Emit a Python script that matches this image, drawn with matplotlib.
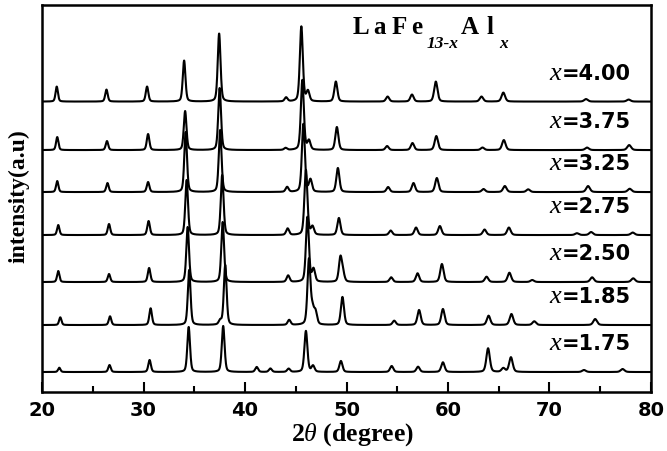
import numpy as np
import matplotlib
matplotlib.use("Agg")
import matplotlib.pyplot as plt
from matplotlib.ticker import MultipleLocator

plt.rcParams['mathtext.fontset'] = 'custom'
plt.rcParams['mathtext.bf'] = 'Liberation Serif:bold'
plt.rcParams['mathtext.it'] = 'Liberation Serif:italic'
plt.rcParams['mathtext.rm'] = 'Liberation Serif:bold'

# Al content of each sample, top to bottom
labels = ['4.00', '3.75', '3.25', '2.75', '2.50', '1.85', '1.75']
offsets = [290.5, 242, 200, 157, 110, 67, 20]

# peak positions (2theta) and heights of each pattern
pos_400 = [21.45, 26.35, 30.35, 34.0, 37.45, 44.05, 45.55, 46.2, 48.95, 54.05, 56.45, 58.8, 63.3, 65.45, 73.6, 77.8]
hgt_400 = [15, 12, 15, 41, 68, 4, 75, 10, 20, 5, 7, 20, 5, 9, 2.5, 2]

pos_375 = [21.5, 26.4, 30.45, 34.1, 37.5, 44.0, 45.65, 46.3, 49.05, 54.0, 56.5, 58.85, 63.4, 65.5, 73.7, 77.85]
hgt_375 = [13, 9, 16, 39, 62, 2, 70, 9, 23, 4, 7, 14, 2.5, 10, 2.5, 5]

pos_325 = [21.5, 26.45, 30.45, 34.15, 37.55, 44.15, 45.75, 46.45, 49.15, 54.1, 56.6, 58.9, 63.5, 65.6, 67.9, 73.8, 77.9]
hgt_325 = [11, 9, 10, 60, 62, 5, 68, 12, 24, 5, 9, 14, 3, 6, 2.7, 6, 3.3]

pos_275 = [21.6, 26.6, 30.5, 34.25, 37.75, 44.2, 46.0, 46.65, 49.25, 54.35, 56.85, 59.2, 63.6, 66.0, 72.7, 74.1, 78.2]
hgt_275 = [10, 11, 14, 55, 60, 6.5, 65, 8, 17, 4.5, 7.5, 9, 5.5, 7.5, 1.8, 3, 2.5]

pos_250 = [21.6, 26.6, 30.55, 34.35, 37.8, 44.25, 46.15, 46.75, 49.4, 49.65, 54.4, 57.0, 59.4, 63.8, 66.05, 68.3, 74.2, 78.25]
hgt_250 = [11, 8, 14, 55, 60, 6.5, 65, 12.5, 24, 8, 4.7, 8.7, 18, 5.3, 9.3, 2, 4.7, 3.7]

pos_185 = [21.8, 26.7, 30.7, 34.5, 37.55, 38.05, 44.35, 46.3, 46.65, 46.95, 49.6, 54.7, 57.15, 59.5, 64.0, 66.25, 68.5, 74.5]
hgt_185 = [7.7, 8.7, 16.7, 55, 4, 60, 5, 65, 14, 12, 28, 4.3, 15, 16, 9.3, 11, 3.7, 6]

pos_175 = [21.7, 26.65, 30.6, 34.45, 37.85, 41.15, 42.5, 44.3, 46.0, 46.7, 49.45, 54.45, 57.05, 59.5, 63.95, 65.45, 66.2, 73.4, 77.2]
hgt_175 = [4.3, 7, 12, 45, 46, 5, 3.5, 3.3, 41, 6, 11, 6, 5.3, 9.7, 23.7, 3.7, 14.7, 2, 3]

patterns = [(pos_400, hgt_400), (pos_375, hgt_375), (pos_325, hgt_325),
            (pos_275, hgt_275), (pos_250, hgt_250), (pos_185, hgt_185),
            (pos_175, hgt_175)]


def profile(tt, centers, heights):
    # pseudo-Voigt peaks on a flat background
    y = np.zeros_like(tt)
    for c, h in zip(centers, heights):
        w = 0.27 + 0.003 * (c - 20)
        d = (tt - c) / (w / 2)
        lor = 1.0 / (1.0 + d ** 2)
        gau = np.exp(-np.log(2) * d ** 2)
        y += h * (0.35 * lor + 0.65 * gau)
    return y


tt = np.linspace(20, 80, 6001)

fig = plt.figure(figsize=(6.67, 4.52), dpi=100)
ax = fig.add_axes([0.063, 0.1305, 0.913, 0.856])

for lab, off, (p, h) in zip(labels, offsets, patterns):
    ax.plot(tt, profile(tt, p, h) + off, color='black', lw=1.5, solid_joinstyle='round')
    num = ax.text(78.0, off + 23, '=' + lab, ha='right', va='baseline',
                  fontsize=15, fontweight='bold', family='DejaVu Sans')
    ax.annotate('x', xy=(0, off + 23), xycoords=(num, 'data'), xytext=(-0.5, 0),
                textcoords='offset points', ha='right', va='baseline',
                fontsize=19, family='Liberation Serif', style='italic')

# LaFe13-xAlx, spaced out, with lowered bold-italic subscripts
base = 359.5
t1 = ax.text(50.5, base, r'$\mathbf{L\;a\;F\;e}$', fontsize=18, ha='left', va='baseline')
t2 = ax.annotate('13-x', xy=(1, base), xycoords=(t1, 'data'), xytext=(2.5, -10.5),
                 textcoords='offset points', ha='left', va='baseline',
                 fontsize=12.5, family='Liberation Serif', weight='bold', style='italic')
t3 = ax.annotate(r'$\mathbf{A\;\,l}$', xy=(1, base), xycoords=(t2, 'data'), xytext=(1, 0),
                 textcoords='offset points', ha='left', va='baseline', fontsize=18)
ax.annotate('x', xy=(1, base), xycoords=(t3, 'data'), xytext=(3, -10.5),
            textcoords='offset points', ha='left', va='baseline',
            fontsize=12.5, family='Liberation Serif', weight='bold', style='italic')

ax.set_xlim(20, 80)
ax.set_ylim(0, 387)
ax.xaxis.set_major_locator(MultipleLocator(10))
ax.xaxis.set_minor_locator(MultipleLocator(5))
ax.tick_params(axis='x', which='major', direction='in', length=7, width=1.5, pad=6)
ax.tick_params(axis='x', which='minor', direction='in', length=4, width=1.5)
ax.tick_params(axis='y', left=False, labelleft=False)
for lbl in ax.get_xticklabels():
    lbl.set_fontfamily('DejaVu Sans')
    lbl.set_fontweight('bold')
    lbl.set_fontsize(14)
for sp in ax.spines.values():
    sp.set_linewidth(1.8)

ax.set_xlabel(r'2$\mathit{\theta}$ (degree)', fontsize=18.5, fontweight='bold', family='Liberation Serif')
ax.xaxis.set_label_coords(0.509, -0.072)
ax.set_ylabel('intensity(a.u)', fontsize=17, fontweight='bold', family='Liberation Serif')
ax.yaxis.set_label_coords(-0.021, 0.51)

fig.savefig('out.png', dpi=100)
